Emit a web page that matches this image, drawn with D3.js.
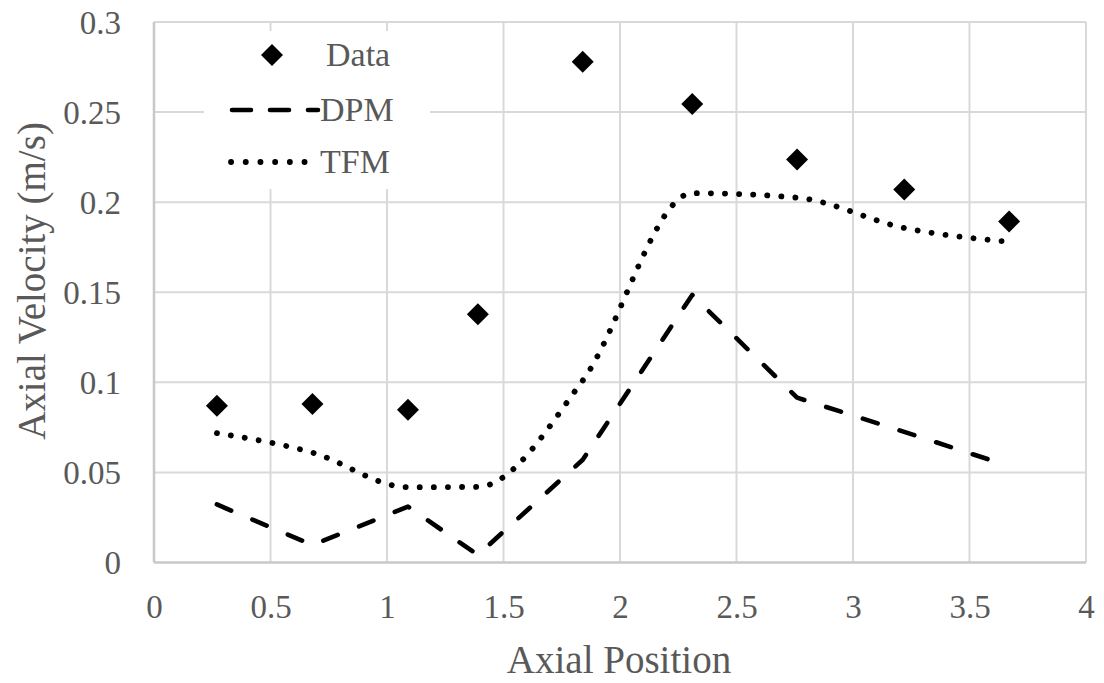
<!DOCTYPE html>
<html>
<head>
<meta charset="utf-8">
<script src="https://cdn.jsdelivr.net/npm/d3@7"></script>
<style>
  html, body { margin: 0; padding: 0; background: #fff; }
  svg { display: block; }
  svg text { font-family: "Liberation Serif", Tinos, "Times New Roman", Times, "DejaVu Serif", "Noto Serif", serif !important; fill: #595959; }
</style>
</head>
<body>
<script>
// ---- data ----
const positions = [0.27, 0.68, 1.09, 1.39, 1.84, 2.31, 2.76, 3.22, 3.67];
const dataVel   = [0.0870, 0.0880, 0.0848, 0.1378, 0.2780, 0.2545, 0.2237, 0.2070, 0.1893];
const dpmVel    = [0.0322, 0.0097, 0.0310, 0.0042, 0.0570, 0.1485, 0.0915, 0.0725, 0.0535];
const tfmVel    = [0.0718, 0.0610, 0.0418, 0.0420, 0.1010, 0.2050, 0.2025, 0.1857, 0.1780];
const xTicks = [0, 0.5, 1, 1.5, 2, 2.5, 3, 3.5, 4];
const yTicks = [0, 0.05, 0.1, 0.15, 0.2, 0.25, 0.3];
const xTitle = "Axial Position";
const yTitle = "Axial Velocity (m/s)";
const legendNames = ["Data", "DPM", "TFM"];

const FONT = '"Liberation Serif", Tinos, "Times New Roman", Times, "DejaVu Serif", serif';
const W = 1104, H = 683;
const svg = d3.select("body").append("svg").attr("width", W).attr("height", H);

const x = d3.scaleLinear().domain([0, 4]).range([154, 1086]);
const y = d3.scaleLinear().domain([0, 0.3]).range([562.5, 22]);

// gridlines
const grid = svg.append("g");
grid.selectAll("line.h").data(yTicks.filter(d => d > 0)).join("line")
  .attr("x1", x(0)).attr("x2", x(4))
  .attr("y1", d => y(d)).attr("y2", d => y(d))
  .attr("stroke", "#d9d9d9").attr("stroke-width", 2);
grid.selectAll("line.v").data(xTicks.filter(d => d > 0)).join("line")
  .attr("y1", y(0)).attr("y2", y(0.3))
  .attr("x1", d => x(d)).attr("x2", d => x(d))
  .attr("stroke", "#d9d9d9").attr("stroke-width", 2);

// axes lines
svg.append("line").attr("x1", x(0)).attr("x2", x(4)).attr("y1", y(0)).attr("y2", y(0))
  .attr("stroke", "#c8c8c8").attr("stroke-width", 2.5);
svg.append("line").attr("x1", x(0)).attr("x2", x(0)).attr("y1", y(0)).attr("y2", y(0.3))
  .attr("stroke", "#c8c8c8").attr("stroke-width", 2.5);

// tick labels via d3 axes (no lines)
const xAxis = svg.append("g").attr("transform", `translate(0,${y(0)})`)
  .call(d3.axisBottom(x).tickValues(xTicks).tickSize(0).tickPadding(0).tickFormat(d3.format("")))
  .attr("font-family", FONT);
xAxis.select(".domain").remove();
xAxis.selectAll("text").attr("font-size", 33).attr("dy", null).attr("y", 55)
  .attr("fill", "#595959");

const yAxis = svg.append("g").attr("transform", `translate(121,0)`)
  .call(d3.axisLeft(y).tickValues(yTicks).tickSize(0).tickPadding(0).tickFormat(d3.format("")))
  .attr("font-family", FONT);
yAxis.select(".domain").remove();
yAxis.selectAll("text").attr("font-size", 33).attr("dy", null).attr("y", 11).attr("x", 0)
  .attr("fill", "#595959");

// axis titles
svg.append("text").attr("x", 619).attr("y", 673).attr("text-anchor", "middle")
  .attr("font-family", FONT).attr("font-size", 39).text(xTitle);
svg.append("text").attr("transform", "translate(45,281) rotate(-90)").attr("text-anchor", "middle")
  .attr("font-family", FONT).attr("font-size", 39).text(yTitle);

// series
const idx = d3.range(positions.length);
const dpmLine = d3.line().x(i => x(positions[i])).y(i => y(dpmVel[i]));
const tfmLine = d3.line().curve(d3.curveMonotoneX).x(i => x(positions[i])).y(i => y(tfmVel[i]));

svg.append("path").attr("d", dpmLine(idx)).attr("fill", "none")
  .attr("stroke", "#000").attr("stroke-width", 4.6)
  .attr("stroke-linecap", "round").attr("stroke-linejoin", "round")
  .attr("stroke-dasharray", "15.5 23");
svg.append("path").attr("d", tfmLine(idx)).attr("fill", "none")
  .attr("stroke", "#000").attr("stroke-width", 5.8)
  .attr("stroke-linecap", "round")
  .attr("stroke-dasharray", "0.1 14");

const diamond = (cx, cy, r) => `M${cx},${cy - r}L${cx + r},${cy}L${cx},${cy + r}L${cx - r},${cy}Z`;
svg.append("g").selectAll("path").data(idx).join("path")
  .attr("d", i => diamond(x(positions[i]), y(dataVel[i]), 11))
  .attr("fill", "#000");

// legend
const lg = svg.append("g");
lg.append("rect").attr("x", 204).attr("y", 31).attr("width", 226).attr("height", 158).attr("fill", "#fff");
lg.append("path").attr("d", diamond(272, 55, 11)).attr("fill", "#000");
lg.append("line").attr("x1", 232).attr("x2", 318).attr("y1", 110).attr("y2", 110)
  .attr("stroke", "#000").attr("stroke-width", 4.6).attr("stroke-linecap", "round")
  .attr("stroke-dasharray", "19 19");
lg.append("line").attr("x1", 231).attr("x2", 319).attr("y1", 162).attr("y2", 162)
  .attr("stroke", "#000").attr("stroke-width", 5.8).attr("stroke-linecap", "round")
  .attr("stroke-dasharray", "0.1 14.6");
lg.selectAll("text").data(legendNames).join("text")
  .attr("x", (d, i) => i === 0 ? 326 : 320)
  .attr("y", (d, i) => [66, 121, 173][i])
  .attr("font-family", FONT)
  .attr("font-size", 34).text(d => d);
</script>
</body>
</html>
